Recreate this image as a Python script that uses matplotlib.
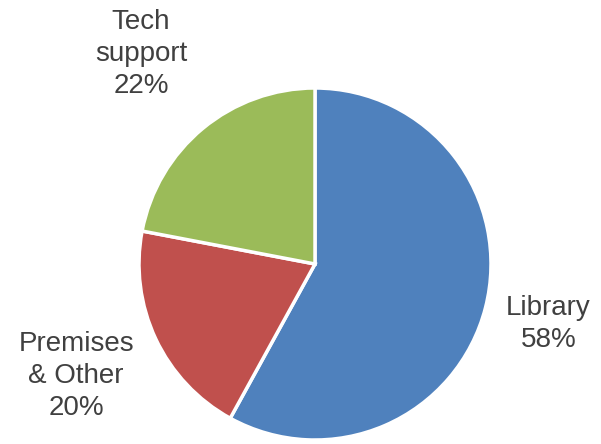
import matplotlib
matplotlib.use("Agg")
import matplotlib.pyplot as plt
import numpy as np

categories = ["Library", "Premises\n& Other", "Tech\nsupport"]
values = [58, 20, 22]
colors = ["#4F81BD", "#C0504D", "#9BBB59"]
label_dist = [1.37, 1.50, 1.55]

plt.rcParams['font.family'] = ['Liberation Sans', 'DejaVu Sans']

W, H = 601, 444
fig = plt.figure(figsize=(W / 100, H / 100), dpi=100)
cx, cy, r = 315, 264, 176
ax = fig.add_axes([(cx - r) / W, (H - cy - r) / H, 2 * r / W, 2 * r / H])

wedges, _ = ax.pie(values, colors=colors, startangle=90, counterclock=False,
                   radius=1.0, wedgeprops=dict(edgecolor="white", linewidth=2.5))

for w, cat, v, d in zip(wedges, categories, values, label_dist):
    ang = np.deg2rad((w.theta1 + w.theta2) / 2)
    ax.text(d * np.cos(ang), d * np.sin(ang), f"{cat}\n{v}%", ha="center", va="center",
            fontsize=20, color="#404040", linespacing=1.3, clip_on=False)

ax.set_xlim(-1, 1)
ax.set_ylim(-1, 1)
ax.set_aspect("equal")
ax.axis("off")
fig.savefig("out.png", dpi=100)
